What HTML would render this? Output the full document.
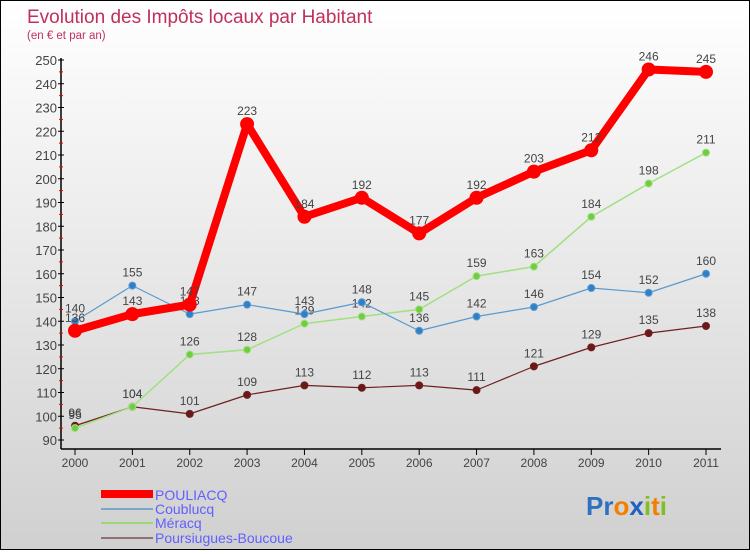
<!DOCTYPE html>
<html><head><meta charset="utf-8"><style>
html,body{margin:0;padding:0}
body{width:750px;height:550px;overflow:hidden;font-family:"Liberation Sans",sans-serif}
#wrap{position:relative;width:748px;height:548px;border:1px solid #000;background:linear-gradient(#fff,#d0d0d0)}
</style></head><body>
<div id="wrap">
<svg id="chart" width="748" height="548">
<text x="26" y="22" font-size="19" fill="#c0305a">Evolution des Impôts locaux par Habitant</text>
<text x="26" y="38" font-size="11.5" fill="#c0305a">(en € et par an)</text>
<g id="axes"></g><g id="series"></g>
<g>
<rect x="100" y="489" width="52" height="8" fill="#f00"/>
<text x="154" y="499" font-size="14" fill="#6060ff">POULIACQ</text>
<rect x="100" y="507" width="52" height="2" fill="#7aa8c8"/>
<text x="154" y="513" font-size="14" fill="#6060ff">Coublucq</text>
<rect x="100" y="521" width="52" height="2" fill="#98d878"/>
<text x="154" y="527" font-size="14" fill="#6060ff">Méracq</text>
<rect x="100" y="536" width="52" height="2" fill="#907070"/>
<text x="154" y="542" font-size="14" fill="#6060ff">Poursiugues-Boucoue</text>
</g>
<text x="585" y="514" font-size="26" font-weight="bold"><tspan fill="#3070c0">Pr</tspan><tspan fill="#f08000">o</tspan><tspan fill="#2060c0">x</tspan><tspan fill="#80c020">i</tspan><tspan fill="#f08000">t</tspan><tspan fill="#80c020">i</tspan></text>
</svg></div>
<script>
const years=['2000','2001','2002','2003','2004','2005','2006','2007','2008','2009','2010','2011'];
const yTicks=[90,100,110,120,130,140,150,160,170,180,190,200,210,220,230,240,250];
const pouliacq=[136,143,147,223,184,192,177,192,203,212,246,245];
const coublucq=[140,155,143,147,143,148,136,142,146,154,152,160];
const meracq=[95,104,126,128,139,142,145,159,163,184,198,211];
const poursiugues=[96,104,101,109,113,112,113,111,121,129,135,138];
const NS='http://www.w3.org/2000/svg';
const xS=i=>74+i*(631/11);
const yS=v=>439-(v-90)*(380/160);
function mk(t,a,p){const e=document.createElementNS(NS,t);for(const k in a)e.setAttribute(k,a[k]);p.appendChild(e);return e;}
const ax=document.getElementById('axes');
const yl=mk('line',{x1:60,y1:57,x2:60,y2:448,stroke:'#000','stroke-width':1.5},ax);


const xl=mk('line',{x1:60,y1:448,x2:720,y2:448,stroke:'#000','stroke-width':1.5},ax);


yTicks.forEach((v,i)=>{
  mk('line',{x1:57,x2:63,y1:yS(v),y2:yS(v),stroke:'#000'},ax);
  if(i<yTicks.length-1)mk('line',{x1:58,x2:62,y1:yS(v+5),y2:yS(v+5),stroke:'#e00'},ax);
  const t=mk('text',{x:56,y:yS(v)+5,'font-size':13,fill:'#444','text-anchor':'end'},ax);
  t.textContent=v;
  
  
});
years.forEach((y,i)=>{
  mk('line',{x1:xS(i),x2:xS(i),y1:448,y2:454,stroke:'#000'},ax);
  const t=mk('text',{x:xS(i),y:466,'font-size':12,fill:'#444','text-anchor':'middle'},ax);
  t.textContent=y;
  
  
});
const sg=document.getElementById('series');
function draw(data,name,color,w,r,dot){
  const g=mk('g',{},sg);
  
  
  const pl=mk('polyline',{points:data.map((v,i)=>xS(i)+','+yS(v)).join(' '),fill:'none',stroke:color,'stroke-width':w,'stroke-linejoin':'round'},g);
  
  
  data.forEach((v,i)=>{
    const c=mk('circle',{cx:xS(i),cy:yS(v),r:r,fill:dot,stroke:color,'stroke-width':1},g);
    
    
    const t=mk('text',{x:xS(i),y:yS(v)-9,'font-size':12,fill:'#444','text-anchor':'middle'},g);
    t.textContent=v;
    
    
  });
}
draw(poursiugues,'poursiugues','#702020',1.2,3.5,'#6a1818');
draw(meracq,'meracq','#a0e080',1.5,3.5,'#70cc40');
draw(coublucq,'coublucq','#5a9ad0',1.2,3.5,'#3080c8');
draw(pouliacq,'pouliacq','#f00',8,6.5,'#f00');
</script>
</body></html>
